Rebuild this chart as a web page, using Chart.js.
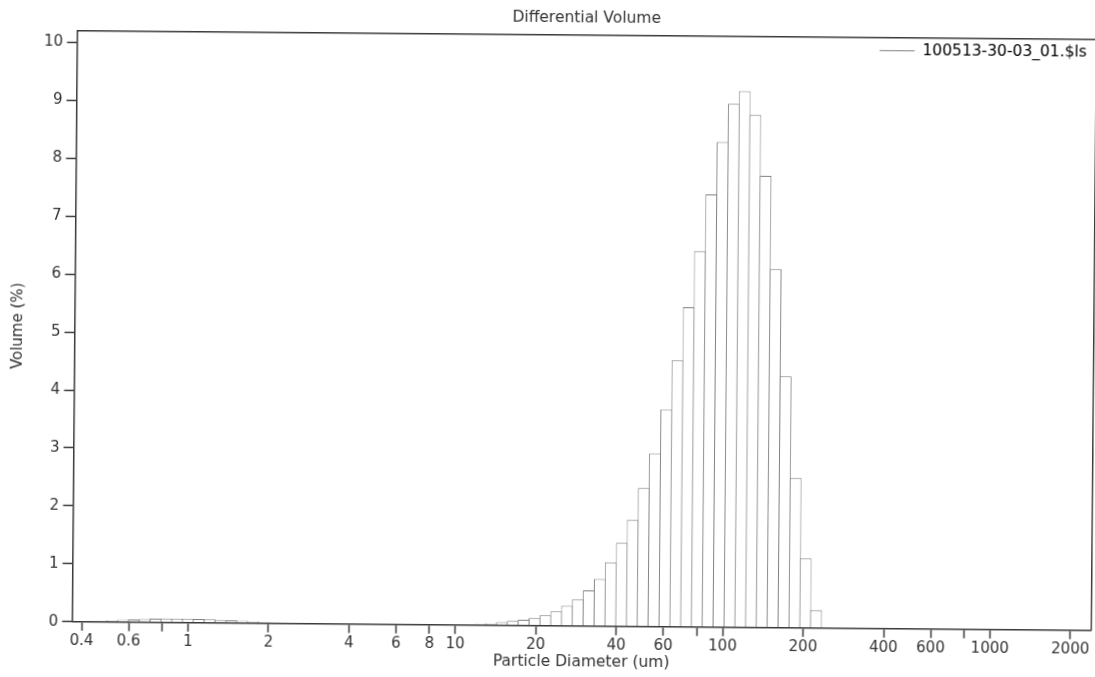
<!DOCTYPE html>
<html>
<head>
<meta charset="utf-8">
<title>Differential Volume</title>
<script src="https://cdn.jsdelivr.net/npm/chart.js@4/dist/chart.umd.min.js"></script>
<style>
  html, body { margin: 0; padding: 0; background: #ffffff; overflow: hidden; }
  /* the printed sheet sits slightly askew */
  #sheet { width: 1095px; height: 677px; transform: rotate(0.49deg); transform-origin: 50% 50%; }
  canvas { display: block; }
</style>
</head>
<body>
<div id="sheet"><canvas id="chart" width="1095" height="677"></canvas></div>
<script>
// Channel boundaries of the size analyser (um), 92 channels
const channelEdges = [
  0.375, 0.412, 0.452, 0.496, 0.545, 0.598, 0.657, 0.721, 0.791, 0.869,
  0.953, 1.047, 1.149, 1.261, 1.385, 1.520, 1.669, 1.832, 2.011, 2.208,
  2.423, 2.660, 2.920, 3.206, 3.519, 3.863, 4.241, 4.656, 5.111, 5.611,
  6.159, 6.761, 7.422, 8.148, 8.944, 9.819, 10.78, 11.83, 12.99, 14.26,
  15.65, 17.18, 18.86, 20.71, 22.73, 24.95, 27.39, 30.07, 33.01, 36.24,
  39.78, 43.67, 47.94, 52.63, 57.77, 63.42, 69.62, 76.43, 83.90, 92.10,
  101.1, 111.0, 121.8, 133.7, 146.8, 161.2, 176.9, 194.2, 213.2, 234.1,
  256.9, 282.1, 309.6, 339.9, 373.1, 409.6, 449.7, 493.6, 541.9, 594.9,
  653.0, 716.9, 786.9, 863.9, 948.3, 1041, 1143, 1255, 1377, 1512,
  1660, 1822, 2000
];

// Differential volume per channel (%)
const volumePct = [
  0.010, 0.015, 0.020, 0.030, 0.040, 0.045, 0.055, 0.062, 0.067, 0.070,
  0.070, 0.066, 0.060, 0.052, 0.045, 0.038, 0.030, 0.022, 0.015, 0.010,
  0.008, 0.006, 0.005, 0.004, 0.004, 0.004, 0.004, 0.004, 0.004, 0.004,
  0.005, 0.005, 0.006, 0.007, 0.008, 0.010, 0.014, 0.020, 0.030, 0.055,
  0.075, 0.100, 0.130, 0.180, 0.250, 0.350, 0.455, 0.615, 0.815, 1.105,
  1.440, 1.840, 2.390, 2.990, 3.750, 4.600, 5.520, 6.490, 7.470, 8.380,
  9.040, 9.260, 8.850, 7.800, 6.190, 4.340, 2.590, 1.200, 0.310, 0,
  0, 0, 0, 0, 0, 0, 0, 0, 0, 0,
  0, 0, 0, 0, 0, 0, 0, 0, 0, 0,
  0, 0
];

const xTickValues = [0.4, 0.6, 0.8, 1, 2, 4, 6, 8, 10, 20, 40, 60, 80, 100, 200, 400, 600, 800, 1000, 2000];
const xTickLabels = ['0.4', '0.6', '', '1', '2', '4', '6', '8', '10', '20', '40', '60', '', '100', '200', '400', '600', '', '1000', '2000'];
const yTickValues = [0, 1, 2, 3, 4, 5, 6, 7, 8, 9, 10];

const sampleName = '100513-30-03_01.$ls';
const chartTitle = 'Differential Volume';
const xTitle = 'Particle Diameter (um)';
const yTitle = 'Volume (%)';

const ink = '#333333';
const frameColor = '#3a3a3a';
const barLine = '#808080';

Chart.defaults.font.family = "'DejaVu Sans', sans-serif";
Chart.defaults.color = ink;

// one bar per channel, centred on the geometric middle of its bounds
const points = volumePct.map((v, i) => ({
  x: Math.sqrt(channelEdges[i] * channelEdges[i + 1]),
  y: v
}));

// keep the legend inside the plot, against its top-right corner
const legendRightGap = 9;
const legendInPlot = {
  id: 'legendInPlot',
  afterLayout(chart) {
    const lg = chart.legend;
    if (!lg || !lg.legendHitBoxes || !lg.legendHitBoxes.length) return;
    const w = lg.legendHitBoxes[0].width;
    lg.left = chart.chartArea.right - legendRightGap - w - lg.options.labels.padding;
    lg.top = chart.chartArea.top;
  }
};

const frameAxis = (position) => ({
  type: 'linear',
  display: true,
  position,
  min: 0,
  max: 1,
  grid: { drawOnChartArea: false, drawTicks: false },
  ticks: { display: false },
  border: { display: true, color: frameColor, width: 1.5, z: 1 },
  afterFit: (s) => { if (s.isHorizontal()) { s.height = 0; } else { s.width = 0; } }
});

new Chart(document.getElementById('chart'), {
  type: 'bar',
  data: {
    datasets: [{
      label: sampleName,
      data: points,
      backgroundColor: '#ffffff',
      borderColor: barLine,
      borderWidth: 1,
      borderSkipped: 'start',
      inflateAmount: 0,
      barThickness: 'flex',
      // one pixel wider than the channel so neighbouring outlines share a line
      barPercentage: 1.092,
      categoryPercentage: 1
    }]
  },
  options: {
    responsive: false,
    devicePixelRatio: 1,
    animation: false,
    layout: { padding: { left: 0, top: 0, right: 1.6, bottom: 0 } },
    plugins: {
      title: {
        display: true,
        text: chartTitle,
        fullSize: false,
        color: ink,
        font: { size: 15.5, weight: 'normal' },
        padding: { top: 8.4, bottom: 8 }
      },
      legend: {
        position: 'chartArea',
        align: 'start',
        labels: {
          usePointStyle: true,
          pointStyleWidth: 35,
          padding: 5,
          color: ink,
          font: { size: 15.5 },
          generateLabels: (chart) => [{
            text: chart.data.datasets[0].label,
            pointStyle: 'line',
            strokeStyle: barLine,
            fillStyle: 'rgba(0,0,0,0)',
            lineWidth: 1,
            hidden: false,
            datasetIndex: 0
          }]
        }
      },
      tooltip: { enabled: false }
    },
    scales: {
      x: {
        type: 'logarithmic',
        position: 'bottom',
        min: 0.3681,
        max: 2386,
        offset: false,
        grid: { offset: false, drawOnChartArea: false, drawTicks: true, tickLength: 9, tickColor: frameColor, tickWidth: 1.5 },
        border: { display: true, color: frameColor, width: 1.5, z: 1 },
        ticks: {
          autoSkip: false,
          maxRotation: 0,
          minRotation: 0,
          padding: 1,
          color: ink,
          font: { size: 15 },
          callback: (v, i) => xTickLabels[i]
        },
        afterBuildTicks: (s) => { s.ticks = xTickValues.map((v) => ({ value: v })); },
        afterFit: (s) => { s.height = 51.3; },
        title: {
          display: true,
          text: xTitle,
          color: ink,
          font: { size: 15.5 },
          padding: { top: 0, bottom: 5.7 }
        }
      },
      y: {
        type: 'linear',
        position: 'left',
        min: 0,
        max: 10.2,
        grid: { drawOnChartArea: false, drawTicks: true, tickLength: 10, tickColor: frameColor, tickWidth: 1.5 },
        border: { display: true, color: frameColor, width: 1.5, z: 1 },
        ticks: {
          padding: 4,
          color: ink,
          font: { size: 15 },
          callback: (v) => String(v)
        },
        afterBuildTicks: (s) => { s.ticks = yTickValues.map((v) => ({ value: v })); },
        afterFit: (s) => { s.width = 74.5; },
        title: {
          display: true,
          text: yTitle,
          color: ink,
          font: { size: 15 },
          padding: { top: 9, bottom: 0 }
        }
      },
      xTop: frameAxis('top'),
      yRight: frameAxis('right')
    }
  },
  plugins: [legendInPlot]
});
</script>
</body>
</html>
